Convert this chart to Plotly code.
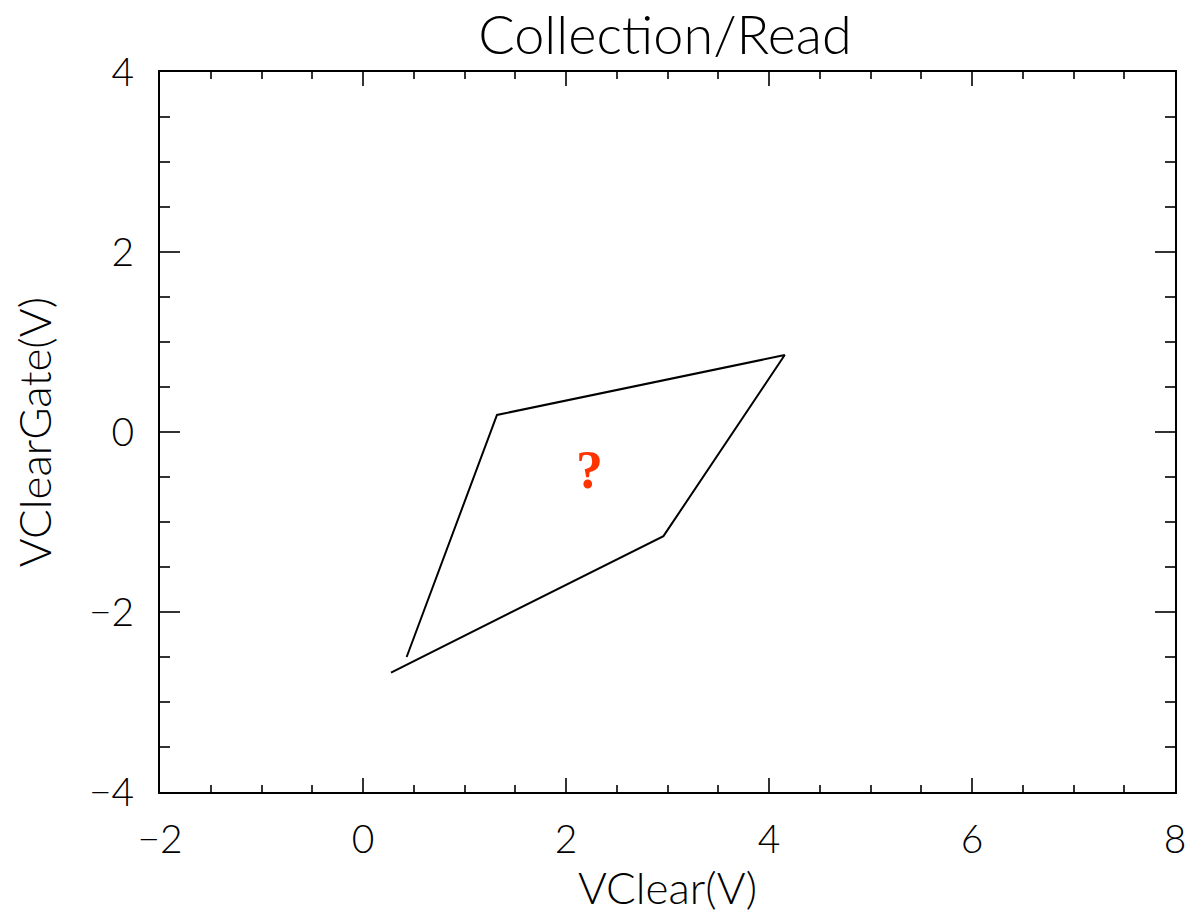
import plotly.graph_objects as go

# Boundary of the collection/read operating window
vclear = [0.43, 1.32, 4.155, 2.96, 0.276]
vclear_gate = [-2.50, 0.19, 0.855, -1.157, -2.673]

# Unknown-region marker
mark_x = 2.23
mark_y = -0.42
mark_text = "?"

FONT = "Lato"

fig = go.Figure()
fig.add_trace(go.Scatter(
    x=vclear, y=vclear_gate, mode="lines",
    line=dict(color="black", width=2),
    showlegend=False, hoverinfo="skip",
))

fig.add_annotation(
    x=mark_x, y=mark_y, text=mark_text, showarrow=False,
    font=dict(family="Liberation Serif", size=54, color="#ff3300", weight="bold"),
    xanchor="center", yanchor="middle",
)

axis_common = dict(
    showgrid=False, zeroline=False, automargin=False,
    showline=True, linecolor="black", linewidth=2,
    mirror="ticks", ticks="inside", tickcolor="#333333", tickwidth=2,
    tickfont=dict(family=FONT, size=39, color="black", weight=300),
)

fig.update_xaxes(
    range=[-2, 8], tickmode="array", tickvals=[-2, 0, 2, 4, 6, 8],
    ticktext=["\u22122", "0", "2", "4", "6", "8"],
    ticklen=14, ticklabelstandoff=12,
    minor=dict(dtick=0.5, tick0=0, ticks="inside", ticklen=7, tickwidth=2, tickcolor="#333333"),
    title=dict(text="VClear(V)", font=dict(family=FONT, size=44, color="black", weight=300), standoff=13),
    **axis_common,
)
fig.update_yaxes(
    range=[-4, 4], tickmode="array", tickvals=[-4, -2, 0, 2, 4],
    ticktext=["\u22124", "\u22122", "0", "2", "4"],
    ticklen=20, ticklabelstandoff=16,
    minor=dict(dtick=0.5, tick0=0, ticks="inside", ticklen=10, tickwidth=2, tickcolor="#333333"),
    title=dict(text="VClearGate(V)", font=dict(family=FONT, size=44, color="black", weight=300), standoff=24),
    **axis_common,
)

fig.update_layout(
    width=1189, height=916,
    margin=dict(l=160, r=14, t=72, b=124),
    paper_bgcolor="white", plot_bgcolor="white",
    title=dict(text="Collection/Read", x=665 / 1189, xanchor="center",
               y=1 - 35 / 916, yanchor="middle", yref="container",
               font=dict(family=FONT, size=54, color="black", weight=300)),
)

fig.write_html("out.html")
